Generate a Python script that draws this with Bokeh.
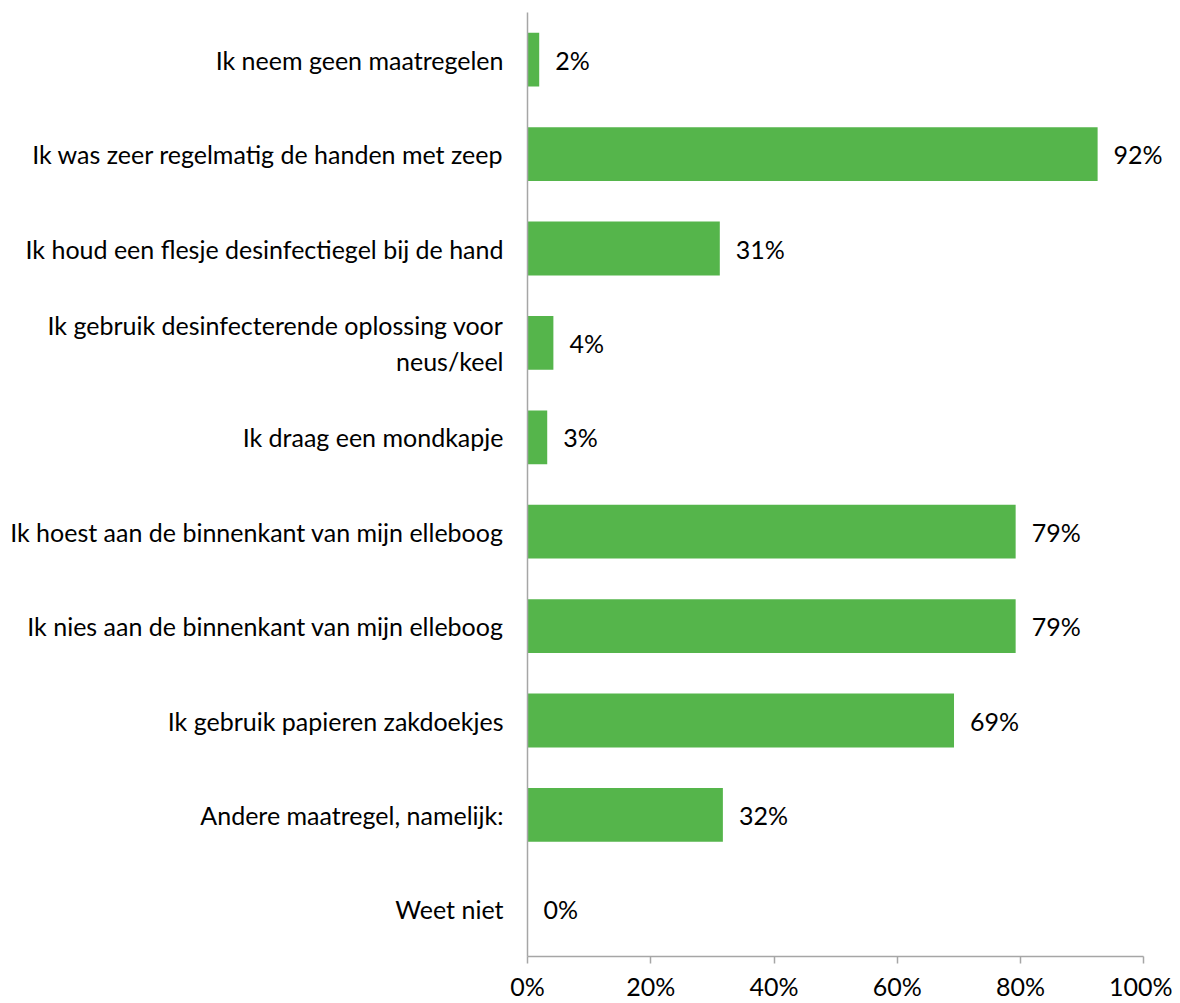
from bokeh.plotting import figure
from bokeh.models import FactorRange, Range1d, NumeralTickFormatter, FixedTicker, ColumnDataSource
from bokeh.embed import file_html
from bokeh.resources import INLINE
from bokeh.core.properties import value

categories = [
    "Ik neem geen maatregelen",
    "Ik was zeer regelmatig de handen met zeep",
    "Ik houd een flesje desinfectiegel bij de hand",
    "Ik gebruik desinfecterende oplossing voor\nneus/keel",
    "Ik draag een mondkapje",
    "Ik hoest aan de binnenkant van mijn elleboog",
    "Ik nies aan de binnenkant van mijn elleboog",
    "Ik gebruik papieren zakdoekjes",
    "Andere maatregel, namelijk:",
    "Weet niet",
]
values = [0.019, 0.925, 0.312, 0.042, 0.032, 0.792, 0.792, 0.692, 0.317, 0.0]
labels = ["2%", "92%", "31%", "4%", "3%", "79%", "79%", "69%", "32%", "0%"]
x_ticks = [0, 0.2, 0.4, 0.6, 0.8, 1.0]

FONT = "Lato"
FS = "25px"
GREEN = "#55b54b"
AXIS = "#a6a6a6"

src = ColumnDataSource(dict(cat=categories, val=values, lab=labels))

p = figure(
    width=1172, height=1003,
    y_range=FactorRange(factors=categories[::-1], range_padding=0),
    x_range=Range1d(0, 1.04),
    output_backend="svg", toolbar_location=None,
    min_border_left=527, min_border_right=4, min_border_top=12, min_border_bottom=46,
)
p.hbar(y="cat", right="val", left=0, height=0.57, color=GREEN, line_color=None, source=src)
p.text(x="val", y="cat", text="lab", source=src, x_offset=16,
       text_align="left", text_baseline="middle",
       text_font=value(FONT), text_font_size=FS, text_color="black")

p.outline_line_color = None
p.grid.visible = False
p.background_fill_color = "white"
p.border_fill_color = "white"

xa = p.xaxis[0]
xa.bounds = (0, 1)
xa.ticker = FixedTicker(ticks=x_ticks)
xa.formatter = NumeralTickFormatter(format="0%")
xa.axis_line_color = AXIS
xa.axis_line_width = 1.5
xa.major_tick_line_color = AXIS
xa.major_tick_line_width = 1.5
xa.major_tick_out = 7
xa.major_tick_in = 0
xa.minor_tick_line_color = None
xa.major_label_standoff = 7
xa.major_label_text_font = FONT
xa.major_label_text_font_size = FS
xa.major_label_text_color = "black"

ya = p.yaxis[0]
ya.axis_line_color = AXIS
ya.axis_line_width = 1.5
ya.major_tick_line_color = None
ya.major_tick_out = 0
ya.major_tick_in = 0
ya.minor_tick_line_color = None
ya.major_label_standoff = 24
ya.major_label_text_font = FONT
ya.major_label_text_font_size = FS
ya.major_label_text_color = "black"

open("out.html", "w").write(file_html(p, INLINE))
